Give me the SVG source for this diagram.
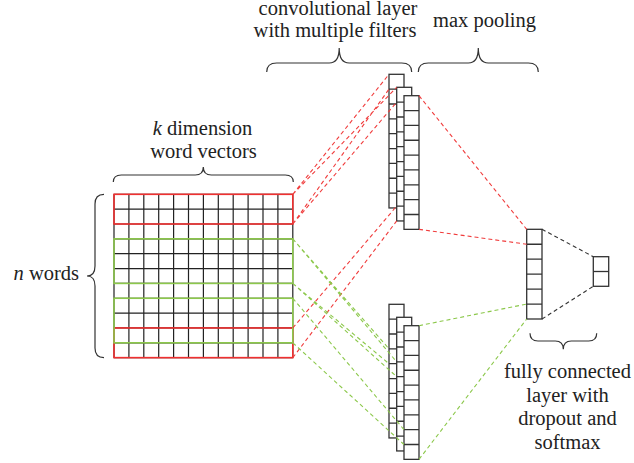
<svg xmlns="http://www.w3.org/2000/svg" width="634" height="463" viewBox="0 0 634 463">
<style>
.t{font-family:'Liberation Serif','Times New Roman','DejaVu Serif',serif;font-size:20.5px;fill:#222}
.c{text-anchor:middle}
.grid{stroke:#222;stroke-width:1.2;fill:none}
.cell{stroke:#333;stroke-width:1.3;fill:#fff}
.cl{stroke:#333;stroke-width:1.3}
.brace{fill:none;stroke:#333;stroke-width:1.2}
.red{stroke:#f03c3c;stroke-width:1.1;stroke-dasharray:4 3;fill:none}
.grn{stroke:#8cc84b;stroke-width:1.1;stroke-dasharray:4 3;fill:none}
.blk{stroke:#333;stroke-width:1.1;stroke-dasharray:4 3;fill:none}
.rbox{stroke:#f03030;stroke-width:1.6;fill:none}
.gbox{stroke:#8cc84b;stroke-width:1.6;fill:none}
</style>
<defs>
<g id="filter">
<rect class="cell" x="0" y="0" width="15" height="133.65"/>
<path class="cl" d="M0,14.85H15M0,29.7H15M0,44.55H15M0,59.4H15M0,74.25H15M0,89.1H15M0,103.95H15M0,118.8H15"/>
</g>
</defs>

<g id="labels" font-family="Liberation Serif, Times New Roman, DejaVu Serif, serif">
<text class="t c" x="338" y="14.5">convolutional layer</text>
<text class="t c" x="335" y="36.5">with multiple filters</text>
<text class="t c" x="484.5" y="27">max pooling</text>
<text class="t c" x="202.5" y="135"><tspan font-style="italic">k</tspan> dimension</text>
<text class="t c" x="203.5" y="158">word vectors</text>
<text class="t" x="79" y="280" text-anchor="end"><tspan font-style="italic">n</tspan> words</text>
<text class="t c" x="567.5" y="378">fully connected</text>
<text class="t c" x="567.5" y="401.5">layer with</text>
<text class="t c" x="567.5" y="425">dropout and</text>
<text class="t c" x="567.5" y="448.5">softmax</text>
</g>

<g id="braces">
<path class="brace" d="M266.7,72 Q266.7,63 276.7,63 L329.2,63 Q339.2,63 339.2,48 Q339.2,63 349.2,63 L401.7,63 Q411.7,63 411.7,72"/>
<path class="brace" d="M418.3,72 Q418.3,63 428.3,63 L468.3,63 Q478.3,63 478.3,48 Q478.3,63 488.3,63 L528.3,63 Q538.3,63 538.3,72"/>
<path class="brace" d="M113.3,182 Q113.3,175 121.3,175 L195.3,175 Q203.3,175 203.3,167 Q203.3,175 211.3,175 L285.3,175 Q293.3,175 293.3,182"/>
<path class="brace" d="M104,194.3 Q95,194.3 95,204 L95,266 Q95,276 87,276 Q95,276 95,286 L95,348 Q95,357.6 104,357.6"/>
<path class="brace" d="M530,333.3 Q530,341 538,341 L555.3,341 Q563.3,341 563.3,349.3 Q563.3,341 571.3,341 L588.7,341 Q596.7,341 596.7,333.3"/>
</g>

<g id="matrix">
<rect x="114" y="194.3" width="178.8" height="163.35" fill="#fff"/>
<path class="grid" d="M114,194.3V357.65M128.9,194.3V357.65M143.8,194.3V357.65M158.7,194.3V357.65M173.6,194.3V357.65M188.5,194.3V357.65M203.4,194.3V357.65M218.3,194.3V357.65M233.2,194.3V357.65M248.1,194.3V357.65M263,194.3V357.65M277.9,194.3V357.65M292.8,194.3V357.65
M114,194.3H292.8M114,209.15H292.8M114,224H292.8M114,238.85H292.8M114,253.7H292.8M114,268.55H292.8M114,283.4H292.8M114,298.25H292.8M114,313.1H292.8M114,327.95H292.8M114,342.8H292.8M114,357.65H292.8"/>
<rect class="rbox" x="114" y="194.3" width="178.8" height="29.7"/>
<rect class="rbox" x="114" y="327.95" width="178.8" height="29.7"/>
<rect class="gbox" x="114" y="238.85" width="178.8" height="44.55"/>
<rect class="gbox" x="114" y="298.25" width="178.8" height="44.55"/>
</g>

<g id="conv-top">
<use href="#filter" x="389" y="74.3"/>
<use href="#filter" x="396.7" y="87.3"/>
<use href="#filter" x="404" y="95.7"/>
</g>
<g id="conv-bottom">
<use href="#filter" x="389" y="304.3"/>
<use href="#filter" x="396.7" y="317.3"/>
<use href="#filter" x="404" y="325.7"/>
</g>

<g id="pooled">
<rect class="cell" x="526.7" y="229.3" width="15.3" height="89.7"/>
<path class="cl" d="M526.7,244.25H542M526.7,259.2H542M526.7,274.15H542M526.7,289.1H542M526.7,304.05H542"/>
</g>

<g id="output">
<rect class="cell" x="593.3" y="256.7" width="15.4" height="29.6"/>
<path class="cl" d="M593.3,271.5H608.7"/>
</g>

<g id="connectors">
<path class="red" d="M292.8,194.3L389,74.3M292.8,224L389,89.15M292.8,194.3L396.7,87.3M292.8,224L396.7,102.15"/>
<path class="red" d="M292.8,327.95L396.7,206.1M292.8,357.65L396.7,220.95"/>
<path class="grn" d="M292.8,238.85L389,348.85M292.8,283.4L389,363.7M292.8,238.85L396.7,361.85M292.8,283.4L396.7,376.7"/>
<path class="grn" d="M292.8,298.25L404,429.65M292.8,342.8L404,444.5"/>
<path class="red" d="M419,95.7L526.7,229.3M419,229.35L526.7,244.25"/>
<path class="grn" d="M419,325.7L526.7,304.05M419,459.35L526.7,319"/>
<path class="blk" d="M542,229.3L593.3,256.7M542,319L593.3,286.3"/>
</g>
</svg>
